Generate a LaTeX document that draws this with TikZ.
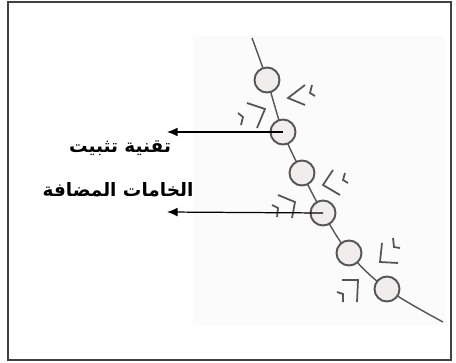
\documentclass[tikz,border=0pt]{standalone}
\usepackage{fontspec}
\usetikzlibrary{arrows.meta}
\newfontfamily\arabicfont[Script=Arabic]{DejaVu Sans}
\TeXXeTstate=1
\definecolor{beadfill}{HTML}{F1EDED}
\definecolor{beadline}{HTML}{555555}
\tikzset{
  bead/.style={circle,draw=beadline,line width=1.1pt,fill=beadfill,minimum size=0.5cm,inner sep=0pt},
  strand/.style={draw=beadline,line width=0.8pt},
  chev/.style={draw=beadline,line width=1pt},
  pointer/.style={-{Latex[length=6pt,width=5pt]},draw=black,line width=0.7pt},
  lbl/.style={font=\arabicfont\bfseries\fontsize{10.5}{13}\selectfont,inner sep=1pt}
}

\begin{document}
\begin{tikzpicture}[x=0.02cm,y=-0.02cm]
\useasboundingbox (0,0) rectangle (456,362);
\fill[black!1.5] (193,36) rectangle (445,325);
\draw[black!75,line width=1.1pt] (8,2) rectangle (451,360);
\draw[strand] plot[smooth,tension=0.6] coordinates {(252,38) (267,80) (283,132) (302,173) (323,213) (349,253) (387,289) (443,322)};
\foreach \n/\x/\y in {b1/267/80,b2/283/132,b3/302/173,b4/323/213,b5/349/253,b6/387/289}
  \node[bead] (\n) at (\x,\y) {};
% chevrons right of the strand
\draw[chev] (305,85)--(288,98)--(305,105);
\draw[chev] (312,85)--(310,93)--(315,96);
\draw[chev] (333,170)--(323,185)--(340,195);
\draw[chev] (345,173)--(343,180)--(348,183);
\draw[chev] (382,243)--(380,262)--(398,263);
\draw[chev] (393,238)--(394,247)--(400,248);
% chevrons left of the strand
\draw[chev] (247,103)--(265,109)--(257,128);
\draw[chev] (238,113)--(243,117)--(241,125);
\draw[chev] (278,195)--(295,202)--(292,218);
\draw[chev] (272,205)--(278,208)--(277,217);
\draw[chev] (342,280)--(358,280)--(357,302);
\draw[chev] (337,292)--(343,294)--(343,302);
\coordinate (a1) at (167,132);
\coordinate (a2) at (167,212);
\draw[pointer] (b2.center) -- (a1);
\draw[pointer] (b4.center) -- (a2);
\node[lbl] (t1) at (120,148) {\beginR تقنية تثبيت\endR};
\node[lbl] (t2) at (118,190) {\beginR الخامات المضافة\endR};
\end{tikzpicture}
\end{document}
